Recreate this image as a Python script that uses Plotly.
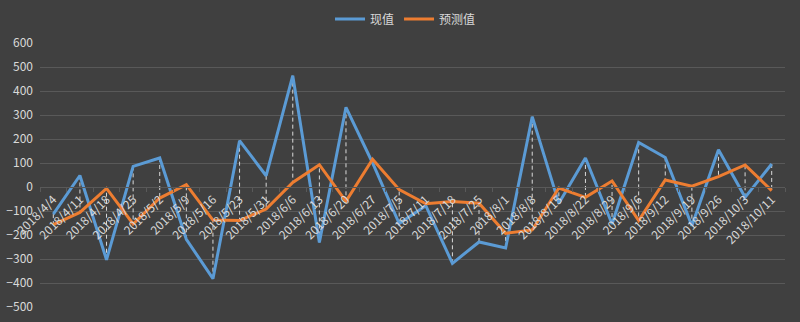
import plotly.graph_objects as go

dates = ["2018/4/4", "2018/4/11", "2018/4/18", "2018/4/25", "2018/5/2", "2018/5/9", "2018/5/16",
         "2018/5/23", "2018/5/31", "2018/6/6", "2018/6/13", "2018/6/20", "2018/6/27", "2018/7/5",
         "2018/7/11", "2018/7/18", "2018/7/25", "2018/8/1", "2018/8/8", "2018/8/15", "2018/8/22",
         "2018/8/29", "2018/9/6", "2018/9/12", "2018/9/19", "2018/9/26", "2018/10/3", "2018/10/11"]
actual = [-113, 48, -303, 86, 121, -218, -382, 193, 47, 464, -231, 332, 100, -152,
          -78, -318, -229, -254, 293, -68, 121, -154, 186, 123, -161, 155, -43, 96]
predicted = [-157, -106, -6, -154, -46, 10, -138, -140, -92, 19, 93, -60, 116, -11,
             -70, -60, -68, -193, -179, -4, -43, 25, -140, 29, 3, 43, 92, -15]
y_ticks = [600, 500, 400, 300, 200, 100, 0, -100, -200, -300, -400, -500]

text_col = "#d9d9d9"
grid_col = "#595959"
bg = "#404040"

# high-low lines between the two series
hx, hy = [], []
for d, a, p in zip(dates, actual, predicted):
    hx += [d, d, None]
    hy += [a, p, None]

fig = go.Figure()
fig.add_trace(go.Scatter(x=hx, y=hy, mode="lines", showlegend=False, hoverinfo="skip",
                         line=dict(color="#d9d9d9", width=1, dash="4px,3px")))
fig.add_trace(go.Scatter(x=dates, y=actual, mode="lines", name="现值",
                         line=dict(color="#5b9bd5", width=3)))
fig.add_trace(go.Scatter(x=dates, y=predicted, mode="lines", name="预测值",
                         line=dict(color="#ed7d31", width=3)))

fig.update_layout(
    width=800, height=322,
    paper_bgcolor=bg, plot_bgcolor=bg,
    margin=dict(l=40, r=15, t=43, b=15),
    font=dict(family="Noto Sans CJK SC, Noto Sans, sans-serif", color=text_col, size=12),
    legend=dict(orientation="h", xref="container", x=330 / 800, xanchor="left",
                yref="container", y=1 - 19 / 322, yanchor="middle",
                font=dict(size=12, color=text_col), bgcolor="rgba(0,0,0,0)",
                itemwidth=30),
    xaxis=dict(type="category", categoryorder="array", categoryarray=dates,
               anchor="free", position=500 / 1100, showline=True, linecolor=grid_col, linewidth=1,
               showgrid=False, ticks="outside", tickson="boundaries", ticklen=4, tickcolor=grid_col,
               tickangle=-45, tickfont=dict(size=12, color=text_col), automargin=False,
               range=[-0.5, len(dates) - 0.5], zeroline=False),
    yaxis=dict(range=[-500, 600], tickvals=y_ticks, showgrid=True, gridcolor=grid_col, gridwidth=1,
               zeroline=False, showline=False, ticks="", tickfont=dict(size=12, color=text_col),
               ticklabelstandoff=6, automargin=False),
)

fig.write_html("out.html")
